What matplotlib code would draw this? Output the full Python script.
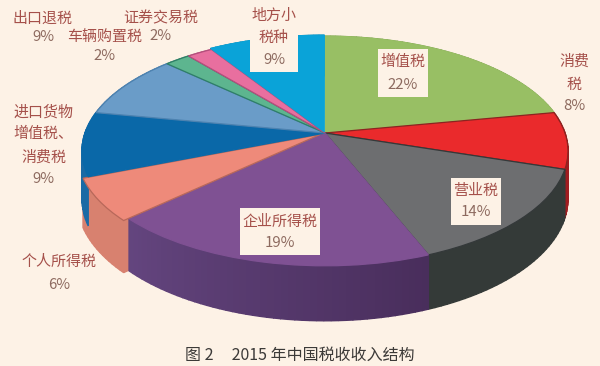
import numpy as np
import matplotlib
matplotlib.use("Agg")
import matplotlib.pyplot as plt
import matplotlib.transforms as mtransforms
from matplotlib.colors import to_rgb
from matplotlib.patches import Rectangle

plt.rcParams['font.family'] = ['Noto Sans CJK SC', 'DejaVu Sans']

# 2015 tax income shares, clockwise from 12 o'clock
names = ["增值税", "消费税", "营业税", "企业所得税", "个人所得税",
         "进口货物增值税、消费税", "出口退税", "车辆购置税", "证券交易税", "地方小税种"]
shares = [22, 8, 14, 19, 6, 9, 9, 2, 2, 9]
caption = "图 2     2015 年中国税收收入结构"

top_colors = ["#98bf64", "#ea2a2c", "#6d6e70", "#7f5193", "#ee8a7a",
              "#0a68a8", "#6a9cc8", "#5db58f", "#e86f9f", "#0aa3d8"]
edge_colors = ["#98bf64", "#8c2320", "#34393a", "#7f5193", "#b8685a",
               "#0a68a8", "#4d82b0", "#2f7f68", "#b34f7c", "#0aa3d8"]
wall_start = ["#7c9c50", "#a01c20", "#343a38", "#492e5c", "#d8816f",
              "#1a6aa5", "#5584ac", "#4b9477", "#c05b84", "#0a85b0"]
wall_end = ["#7c9c50", "#a01c20", "#343a38", "#64457f", "#d8816f",
            "#1a6aa5", "#5584ac", "#4b9477", "#c05b84", "#0a85b0"]
explode = [0, 0, 0, 0, 0.022, 0, 0, 0, 0, 0.012]

BG = "#fdf2e6"
NAME_COLOR = "#a5504a"
PCT_COLOR = "#8d6a5f"

# perspective of the tilted disc, unit circle -> image pixels
CX, CY = 325, 133
RX, RY = 240, 112
K = 0.1565
DEPTH = 46.4


def project(x, y, z=0.0):
    d = 1 + K * y
    return CX + RX * x / d, CY - (RY * y - z * DEPTH) / d


class Tilt(mtransforms.Transform):
    input_dims = 2
    output_dims = 2

    def transform_non_affine(self, values):
        values = np.asarray(values, dtype=float)
        px, py = project(values[:, 0], values[:, 1])
        return np.column_stack([px, py])


fig = plt.figure(figsize=(6, 3.66), dpi=100, facecolor=BG)
ax = fig.add_axes([0, 0, 1, 1])

# side walls first, the top covers whatever is behind
edges = np.cumsum([0] + shares) / sum(shares) * 2 * np.pi
for i in range(len(shares)):
    steps = max(2, int((edges[i + 1] - edges[i]) * 40))
    angles = np.linspace(edges[i], edges[i + 1], steps + 1)
    mid = (edges[i] + edges[i + 1]) / 2
    ox, oy = explode[i] * np.sin(mid), explode[i] * np.cos(mid)
    c0, c1 = np.array(to_rgb(wall_start[i])), np.array(to_rgb(wall_end[i]))
    for j in range(steps):
        a = angles[j:j + 2]
        x, y = np.sin(a) + ox, np.cos(a) + oy
        xt, yt = project(x, y, 0)
        xb, yb = project(x, y, 1)
        col = c0 + (c1 - c0) * j / steps
        ax.fill(np.r_[xt, xb[::-1]], np.r_[yt, yb[::-1]], color=col, lw=1.0, zorder=1)
    # cut face of a pulled out slice, closes the slit next to its neighbour
    if explode[i] > 0:
        a = edges[i]
        x = np.array([ox, np.sin(a) + ox])
        y = np.array([oy, np.cos(a) + oy])
        xt, yt = project(x, y, 0)
        xb, yb = project(x, y, 1)
        ax.fill(np.r_[xt, xb[::-1]], np.r_[yt, yb[::-1]], color=wall_start[i], lw=1.0, zorder=0.9)

wedges, _ = ax.pie(shares, colors=top_colors, startangle=90, counterclock=False,
                   explode=explode, radius=1,
                   wedgeprops={"linewidth": 0.9})
tilt = Tilt()
for w, ec in zip(wedges, edge_colors):
    w.set_transform(tilt + ax.transData)
    w.set_edgecolor(ec)
    w.set_zorder(2)

ax.set_aspect("auto")
ax.set_xlim(0, 600)
ax.set_ylim(366, 0)
ax.set_facecolor(BG)
ax.axis("off")


def label(x, y, s, color=NAME_COLOR):
    ax.text(x, y, s, color=color, fontsize=10.8, ha="center", va="center", zorder=5)


def box(x0, y0, x1, y1):
    ax.add_patch(Rectangle((x0, y0), x1 - x0, y1 - y0, fc=BG, ec="none", zorder=3))


box(378, 49, 428, 97)
box(451, 178, 501, 225)
box(240, 208, 320, 255)
box(250, 0, 298, 72)

label(403, 62, names[0])
label(403, 85, f"{shares[0]}%", PCT_COLOR)
label(574, 62, names[1][:2])
label(574, 85, names[1][2:])
label(574, 106, f"{shares[1]}%", PCT_COLOR)
label(476, 191, names[2])
label(476, 212, f"{shares[2]}%", PCT_COLOR)
label(280, 222, names[3])
label(280, 243, f"{shares[3]}%", PCT_COLOR)
label(59, 262, names[4])
label(59, 285, f"{shares[4]}%", PCT_COLOR)
label(43, 112, names[5][:4])
label(43, 134, names[5][4:8])
label(44, 158, names[5][8:])
label(43, 179, f"{shares[5]}%", PCT_COLOR)
label(43, 19, names[6])
label(43, 37, f"{shares[6]}%", PCT_COLOR)
label(105, 37, names[7])
label(105, 56, f"{shares[7]}%", PCT_COLOR)
label(161, 18, names[8])
label(161, 36, f"{shares[8]}%", PCT_COLOR)
label(274, 16, names[9][:3])
label(274, 38, names[9][3:])
label(274, 60, f"{shares[9]}%", PCT_COLOR)

ax.text(300, 355, caption, color="#3c3a38", fontsize=11.5, ha="center", va="center", zorder=5)

fig.savefig("out.png", dpi=100, facecolor=BG)
